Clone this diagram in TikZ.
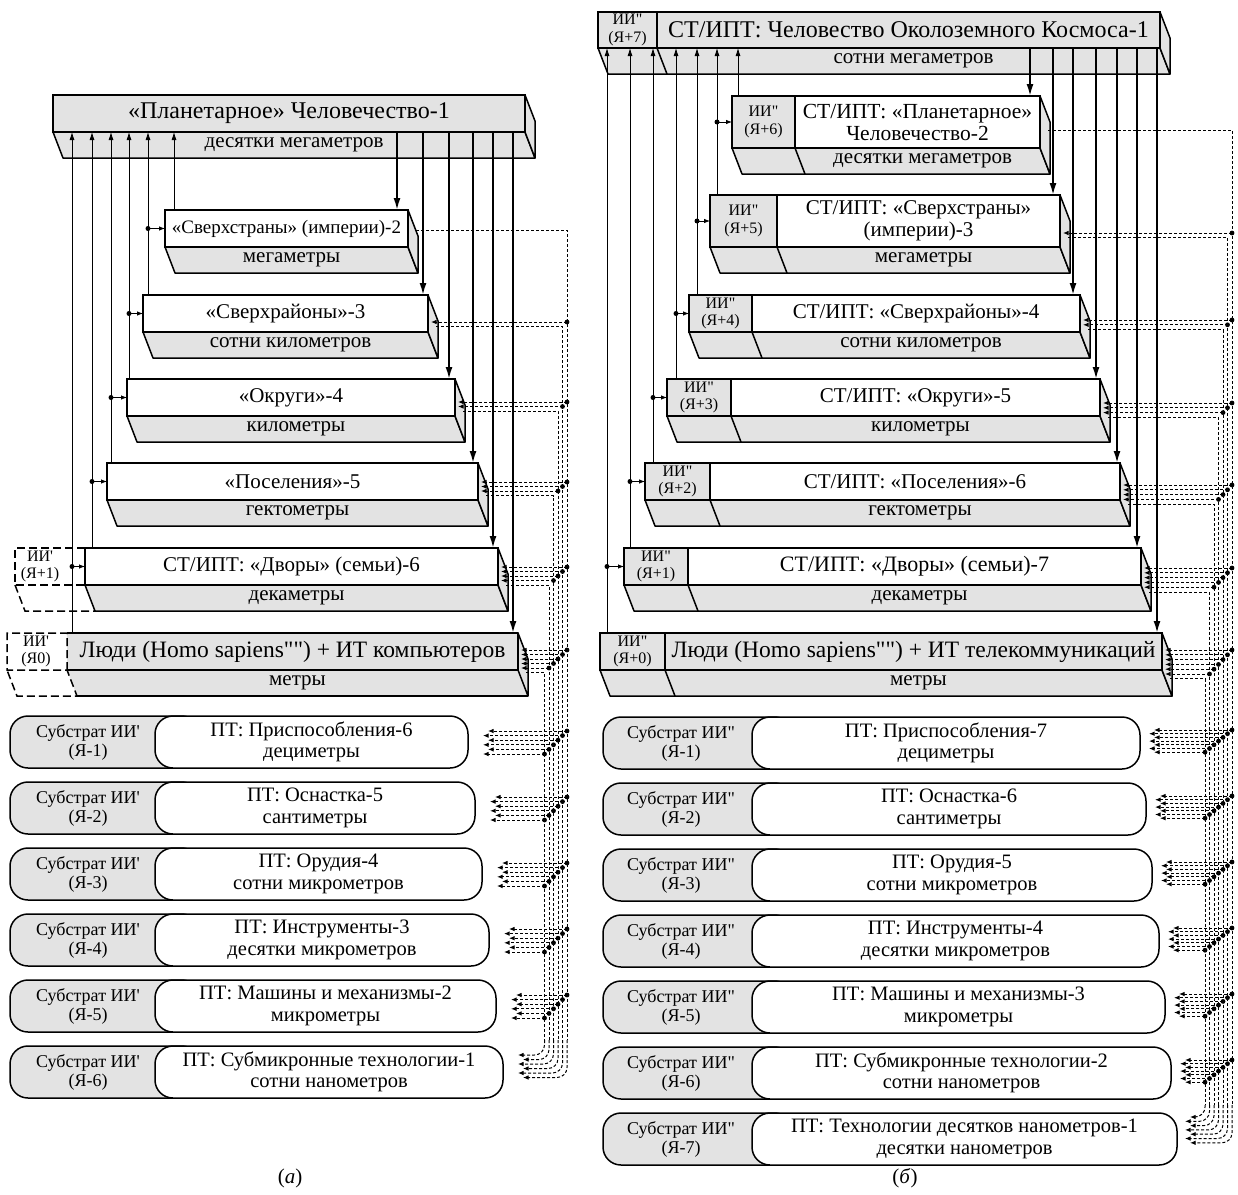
\documentclass[tikz,border=0pt]{standalone}
\usepackage{fontspec}
\setmainfont{Liberation Serif}[Ligatures=TeXOff]
\usetikzlibrary{arrows.meta}

\definecolor{facegrey}{gray}{0.89}
\newcommand{\slabfont}{\fontsize{21}{21}\selectfont}
\newcommand{\cellfont}{\fontsize{16}{17.5}\selectfont}
\newcommand{\pillfont}{\fontsize{20.5}{21.5}\selectfont}
\newcommand{\subfont}{\fontsize{18}{19}\selectfont}

\tikzset{
  slab/.style={draw, line width=1.5pt, fill=white, inner sep=0pt, outer sep=0pt, align=center, minimum height=37, font=\slabfont},
  slabgrey/.style={slab, fill=facegrey},
  cell/.style={slab, fill=facegrey, font=\cellfont},
  face/.style={draw, line width=1.5pt, fill=facegrey, line join=round},
  rim/.style={line width=1.5pt, line join=round},
  facetext/.style={inner sep=0pt, font=\slabfont},
  ghost/.style={line width=1.5pt, dash pattern=on 8pt off 4pt},
  ghosttext/.style={inner sep=0pt, align=center, font=\cellfont},
  uparrow/.style={line width=0.8pt, -{Latex[length=8pt,width=5pt]}},
  downarrow/.style={line width=1.8pt, -{Latex[length=12pt,width=7pt]}},
  tap/.style={line width=0.8pt, -{Latex[length=6pt,width=4.5pt]}},
  bus/.style={line width=1pt, dash pattern=on 3pt off 2pt},
  busarrow/.style={bus, -{Latex[length=5.5pt,width=4.5pt]}},
  substrate/.style={draw, line width=1.5pt, fill=facegrey, rounded corners=18, minimum height=52, minimum width=190, inner sep=0pt},
  subtext/.style={inner sep=0pt, align=center, font=\subfont},
  pill/.style={draw, line width=1.5pt, fill=white, rounded corners=18, inner sep=0pt, align=center, minimum height=52, font=\pillfont},
  caption/.style={inner sep=0pt, font=\slabfont}
}

\begin{document}
\begin{tikzpicture}[x=1pt,y=-1pt]
\useasboundingbox (0,0) rectangle (1238,1194);

\node[slabgrey, minimum width=472, font=\fontsize{24}{24}\selectfont] (a1) at (289,113.5) {«Планетарное» Человечество-1};
\node[slab, minimum width=243, font=\fontsize{19}{20}\selectfont] (a2) at (286.5,228.5) {«Сверхстраны» (империи)-2};
\node[slab, minimum width=285] (a3) at (285.5,313.5) {«Сверхрайоны»-3};
\node[slab, minimum width=328] (a4) at (291,397.5) {«Округи»-4};
\node[slab, minimum width=371] (a5) at (292.5,481.5) {«Поселения»-5};
\node[slab, minimum width=413] (a6) at (291.5,566.5) {СТ/ИПТ: «Дворы» (семьи)-6};
\node[slabgrey, draw=none, minimum width=451, font=\fontsize{23.5}{24}\selectfont] (a7) at (292.5,651.5) {Люди (Homo sapiens"") + ИТ компьютеров};

\foreach \n/\lab in {a1/десятки мегаметров, a2/мегаметры, a3/сотни километров, a4/километры, a5/гектометры, a6/декаметры}{
  \draw[face] (\n.south west) -- (\n.south east) -- ([shift={(10,26)}]\n.south east) -- ([shift={(10,26)}]\n.south west) -- cycle;
  \draw[face] (\n.north east) -- ([shift={(10,26)}]\n.north east) -- ([shift={(10,26)}]\n.south east) -- (\n.south east) -- cycle;
  \node[facetext] (f\n) at ([shift={(5,13)}]\n.south) {\lab};
}
\fill[facegrey] (a7.south west) -- (a7.south east) -- ([shift={(10,26)}]a7.south east) -- ([shift={(10,26)}]a7.south west) -- cycle;
\draw[face] (a7.north east) -- ([shift={(10,26)}]a7.north east) -- ([shift={(10,26)}]a7.south east) -- (a7.south east) -- cycle;
\draw[rim] (a7.north west) -- (a7.north east) -- (a7.south east) -- (a7.south west);
\draw[rim] ([shift={(10,26)}]a7.south west) -- ([shift={(10,26)}]a7.south east);
\node[facetext] (fa7) at ([shift={(5,13)}]a7.south) {метры};

\node[ghosttext] (ga6) at (40,566.5) {ИИ'\\(Я+1)};
\draw[ghost] (a6.north west) -| (15,585) -- (a6.south west);
\draw[ghost] (15,585) -- (25,611) -- ([shift={(10,26)}]a6.south west);
\node[ghosttext] (ga7) at (36,651.5) {ИИ'\\(Я0)};
\draw[ghost] (a7.south west) -- (a7.north west) -| (7,670) -- (a7.south west) -- ([shift={(10,26)}]a7.south west) -- (17,696) -- (7,670);

\coordinate (ua2) at (174,210);
\coordinate (ua3) at (148,295);
\coordinate (ua4) at (129,379);
\coordinate (ua5) at (111,463);
\coordinate (ua6) at (92,548);
\coordinate (ua7) at (72,633);
\foreach \n in {2,...,7}
  \draw[uparrow] (ua\n) -- (ua\n |- a1.south);
\foreach \u/\n in {ua3/a2, ua4/a3, ua5/a4, ua6/a5, ua7/a6}{
  \fill (\u |- \n.west) circle (2.5);
  \draw[tap] (\u |- \n.west) -- (\n.west);
}
\coordinate (da2) at (397,210);
\coordinate (da3) at (423,295);
\coordinate (da4) at (449,379);
\coordinate (da5) at (473,463);
\coordinate (da6) at (493,548);
\coordinate (da7) at (513,633);
\foreach \n in {2,...,7}
  \draw[downarrow] (da\n |- a1.south) -- (da\n);

\node[substrate] (sa1) at (105,742) {};
\node[pill, minimum width=313] (ra1) at (311.5,742) {ПТ: Приспособления-6\\дециметры};
\node[subtext] (ta1) at (88,742) {Субстрат ИИ'\\(Я-1)};
\node[substrate] (sa2) at (105,808) {};
\node[pill, minimum width=320] (ra2) at (315,808) {ПТ: Оснастка-5\\сантиметры};
\node[subtext] (ta2) at (88,808) {Субстрат ИИ'\\(Я-2)};
\node[substrate] (sa3) at (105,874) {};
\node[pill, minimum width=327] (ra3) at (318.5,874) {ПТ: Орудия-4\\сотни микрометров};
\node[subtext] (ta3) at (88,874) {Субстрат ИИ'\\(Я-3)};
\node[substrate] (sa4) at (105,940) {};
\node[pill, minimum width=334] (ra4) at (322,940) {ПТ: Инструменты-3\\десятки микрометров};
\node[subtext] (ta4) at (88,940) {Субстрат ИИ'\\(Я-4)};
\node[substrate] (sa5) at (105,1006) {};
\node[pill, minimum width=341] (ra5) at (325.5,1006) {ПТ: Машины и механизмы-2\\микрометры};
\node[subtext] (ta5) at (88,1006) {Субстрат ИИ'\\(Я-5)};
\node[substrate] (sa6) at (105,1072) {};
\node[pill, minimum width=348] (ra6) at (329,1072) {ПТ: Субмикронные технологии-1\\сотни нанометров};
\node[subtext] (ta6) at (88,1072) {Субстрат ИИ'\\(Я-6)};

\foreach \j/\rx/\tp/\of in {1/408/210/20, 2/428/295/27, 3/455/379/23, 4/478/463/19, 5/498/548/19, 6/518/633/17}{
  \pgfmathsetmacro{\bx}{567-4.5*(\j-1)}
  \pgfmathsetmacro{\yo}{\tp+\of+4.5*(\j-1)}
  \draw[bus] (\rx+8,\yo) -- (\bx,\yo) -- (\bx,1040);
  \foreach \i in {1,...,5}{
    \ifnum\i<\j
      \pgfmathsetmacro{\bxi}{567-4.5*(\i-1)}
      \pgfmathsetmacro{\yi}{\tp+\of+4.5*(\i-1)}
      \draw[busarrow] (\bxi,\yi) -- (\rx+3,\yi);
      \fill (\bxi,\yi) circle (2.4);
    \fi
  }
}
\foreach \ey/\ex in {716/468, 782/475, 848/482, 914/489, 980/496}{
  \foreach \i in {1,...,6}{
    \pgfmathsetmacro{\bxi}{567-4.5*(\i-1)}
    \pgfmathsetmacro{\yi}{\ey+15+4.6*(\i-1)}
    \pgfmathsetmacro{\tx}{\ex+15+5*mod(\i,2)}
    \draw[busarrow] (\bxi,\yi) -- (\tx,\yi);
    \fill (\bxi,\yi) circle (2.4);
  }
}
\foreach \i in {1,...,6}{
  \pgfmathsetmacro{\bxi}{567-4.5*(\i-1)}
  \pgfmathsetmacro{\yi}{1055+4.5*(6-\i)}
  \pgfmathsetmacro{\tx}{518+5*mod(\i,2)}
  \draw[busarrow, rounded corners=10] (\bxi,1040) -- (\bxi,\yi) -- (\tx,\yi);
}

\node[cell, minimum width=59, minimum height=36] (cb1) at (627.5,30) {ИИ"\\(Я+7)};
\node[slabgrey, minimum width=503, minimum height=36, font=\fontsize{24}{24}\selectfont] (b1) at (908.5,30) {СТ/ИПТ: Человество Околоземного Космоса-1};
\node[cell, minimum width=63, minimum height=52] (cb2) at (763.5,122) {ИИ"\\(Я+6)};
\node[slab, minimum width=245, minimum height=52, font=\fontsize{21.5}{22}\selectfont] (b2) at (917.5,122) {СТ/ИПТ: «Планетарное»\\Человечество-2};
\node[cell, minimum width=67, minimum height=52] (cb3) at (743.5,221) {ИИ"\\(Я+5)};
\node[slab, minimum width=283, minimum height=52, font=\fontsize{21}{22}\selectfont] (b3) at (918.5,221) {СТ/ИПТ: «Сверхстраны»\\(империи)-3};
\node[cell, minimum width=63] (cb4) at (720.5,313.5) {ИИ"\\(Я+4)};
\node[slab, minimum width=328] (b4) at (916,313.5) {СТ/ИПТ: «Сверхрайоны»-4};
\node[cell, minimum width=64] (cb5) at (699,397.5) {ИИ"\\(Я+3)};
\node[slab, minimum width=369] (b5) at (915.5,397.5) {СТ/ИПТ: «Округи»-5};
\node[cell, minimum width=65] (cb6) at (677.5,481.5) {ИИ"\\(Я+2)};
\node[slab, minimum width=410] (b6) at (915,481.5) {СТ/ИПТ: «Поселения»-6};
\node[cell, minimum width=64] (cb7) at (656,566.5) {ИИ"\\(Я+1)};
\node[slab, minimum width=453, font=\fontsize{22}{22}\selectfont] (b7) at (914.5,566.5) {СТ/ИПТ: «Дворы» (семьи)-7};
\node[cell, minimum width=65] (cb8) at (632.5,651.5) {ИИ"\\(Я+0)};
\node[slabgrey, minimum width=497, font=\fontsize{23.5}{24}\selectfont] (b8) at (913.5,651.5) {Люди (Homo sapiens"") + ИТ телекоммуникаций};

\foreach \n/\lab in {b1/сотни мегаметров, b2/десятки мегаметров, b3/мегаметры, b4/сотни километров, b5/километры, b6/гектометры, b7/декаметры, b8/метры}{
  \draw[face] (c\n.south west) -- (\n.south east) -- ([shift={(10,26)}]\n.south east) -- ([shift={(10,26)}]c\n.south west) -- cycle;
  \draw[rim] (c\n.south east) -- ([shift={(10,26)}]c\n.south east);
  \draw[face] (\n.north east) -- ([shift={(10,26)}]\n.north east) -- ([shift={(10,26)}]\n.south east) -- (\n.south east) -- cycle;
  \node[facetext] (f\n) at ([shift={(5,13)}]\n.south) {\lab};
}

\coordinate (ub2) at (738,96);
\coordinate (ub3) at (717,195);
\coordinate (ub4) at (697,295);
\coordinate (ub5) at (676,379);
\coordinate (ub6) at (653,463);
\coordinate (ub7) at (630,548);
\coordinate (ub8) at (607,633);
\foreach \n in {2,...,8}
  \draw[uparrow] (ub\n) -- (ub\n |- b1.south);
\foreach \u/\n in {ub3/cb2, ub4/cb3, ub5/cb4, ub6/cb5, ub7/cb6, ub8/cb7}{
  \fill (\u |- \n.west) circle (2.5);
  \draw[tap] (\u |- \n.west) -- (\n.west);
}
\coordinate (db2) at (1030,96);
\coordinate (db3) at (1053,195);
\coordinate (db4) at (1073,295);
\coordinate (db5) at (1096,379);
\coordinate (db6) at (1117,463);
\coordinate (db7) at (1137,548);
\coordinate (db8) at (1157,633);
\foreach \n in {2,...,8}
  \draw[downarrow] (db\n |- b1.south) -- (db\n);

\node[substrate] (sb1) at (698,743) {};
\node[pill, minimum width=388] (rb1) at (946,743) {ПТ: Приспособления-7\\дециметры};
\node[subtext] (tb1) at (681,743) {Субстрат ИИ"\\(Я-1)};
\node[substrate] (sb2) at (698,809) {};
\node[pill, minimum width=394] (rb2) at (949,809) {ПТ: Оснастка-6\\сантиметры};
\node[subtext] (tb2) at (681,809) {Субстрат ИИ"\\(Я-2)};
\node[substrate] (sb3) at (698,875) {};
\node[pill, minimum width=400] (rb3) at (952,875) {ПТ: Орудия-5\\сотни микрометров};
\node[subtext] (tb3) at (681,875) {Субстрат ИИ"\\(Я-3)};
\node[substrate] (sb4) at (698,941) {};
\node[pill, minimum width=407] (rb4) at (955.5,941) {ПТ: Инструменты-4\\десятки микрометров};
\node[subtext] (tb4) at (681,941) {Субстрат ИИ"\\(Я-4)};
\node[substrate] (sb5) at (698,1007) {};
\node[pill, minimum width=413] (rb5) at (958.5,1007) {ПТ: Машины и механизмы-3\\микрометры};
\node[subtext] (tb5) at (681,1007) {Субстрат ИИ"\\(Я-5)};
\node[substrate] (sb6) at (698,1073) {};
\node[pill, minimum width=419] (rb6) at (961.5,1073) {ПТ: Субмикронные технологии-2\\сотни нанометров};
\node[subtext] (tb6) at (681,1073) {Субстрат ИИ"\\(Я-6)};
\node[substrate] (sb7) at (698,1139) {};
\node[pill, minimum width=425] (rb7) at (964.5,1139) {ПТ: Технологии десятков нанометров-1\\десятки нанометров};
\node[subtext] (tb7) at (681,1139) {Субстрат ИИ"\\(Я-7)};

\foreach \j/\rx/\tp/\of in {1/1040/96/34, 2/1060/195/38, 3/1080/295/25, 4/1100/379/24, 5/1120/463/22, 6/1141/548/20, 7/1162/633/17}{
  \pgfmathsetmacro{\bx}{1232-4.5*(\j-1)}
  \pgfmathsetmacro{\yo}{\tp+\of+4.8*(\j-1)}
  \draw[bus] (\rx+8,\yo) -- (\bx,\yo) -- (\bx,1105);
  \foreach \i in {1,...,6}{
    \ifnum\i<\j
      \pgfmathsetmacro{\bxi}{1232-4.5*(\i-1)}
      \pgfmathsetmacro{\yi}{\tp+\of+4.8*(\i-1)}
      \draw[busarrow] (\bxi,\yi) -- (\rx+3,\yi);
      \fill (\bxi,\yi) circle (2.4);
    \fi
  }
}
\foreach \ey/\ex in {717/1140, 783/1146, 849/1152, 915/1159, 981/1165, 1047/1171}{
  \foreach \i in {1,...,7}{
    \pgfmathsetmacro{\bxi}{1232-4.5*(\i-1)}
    \pgfmathsetmacro{\yi}{\ey+13+3.7*(\i-1)}
    \pgfmathsetmacro{\tx}{\ex+9+5*mod(\i,2)}
    \draw[busarrow] (\bxi,\yi) -- (\tx,\yi);
    \fill (\bxi,\yi) circle (2.4);
  }
}
\foreach \i in {1,...,7}{
  \pgfmathsetmacro{\bxi}{1232-4.5*(\i-1)}
  \pgfmathsetmacro{\yi}{1117+4.3*(7-\i)}
  \pgfmathsetmacro{\tx}{1185+5*mod(\i,2)}
  \draw[busarrow, rounded corners=10] (\bxi,1105) -- (\bxi,\yi) -- (\tx,\yi);
}

\node[caption] (capa) at (290,1178) {(\textit{а})};
\node[caption] (capb) at (905,1178) {(\textit{б})};
\end{tikzpicture}
\end{document}
